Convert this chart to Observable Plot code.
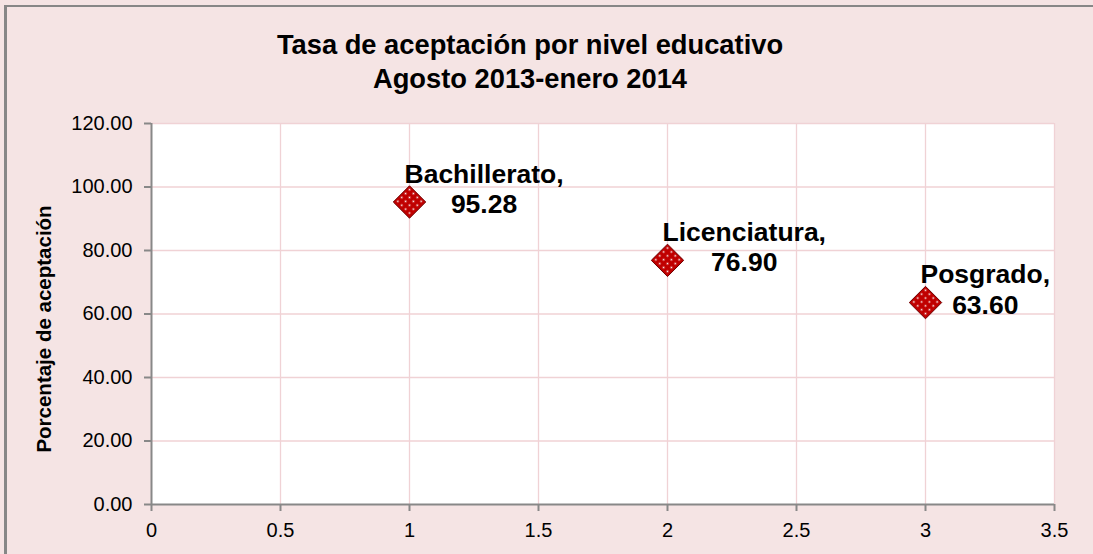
<!DOCTYPE html>
<html>
<head>
<meta charset="utf-8">
<script src="https://cdn.jsdelivr.net/npm/d3@7"></script>
<script src="https://cdn.jsdelivr.net/npm/@observablehq/plot@0.6"></script>
<style>
  html, body { margin: 0; padding: 0; }
  body { width: 1093px; height: 554px; background: #F5E4E4; overflow: hidden; position: relative;
         font-family: "Liberation Sans", Arial, sans-serif; }
  #border { position: absolute; left: 4px; top: 5px; width: 2000px; height: 2000px;
            border-left: 3px solid #878787; border-top: 2px solid #878787; pointer-events: none; }
  #title { height: 100px; width: 1060px; text-align: center; font-weight: bold; font-size: 27.3px;
           line-height: 34px; box-sizing: border-box; color: #000; padding-top: 28px; }
  #chart svg { display: block; overflow: visible; }
</style>
</head>
<body>
<div id="border"></div>
<div id="title"><div>Tasa de aceptación por nivel educativo</div><div>Agosto 2013-enero 2014</div></div>
<div id="chart"></div>
<script>
const categories = ["Bachillerato", "Licenciatura", "Posgrado"];
const positions = [1, 2, 3];
const values = [95.28, 76.90, 63.60];
const xTicks = [0, 0.5, 1, 1.5, 2, 2.5, 3, 3.5];
const yTicks = [0, 20, 40, 60, 80, 100, 120];
const yLabel = ["Porcentaje de aceptación"];

const data = categories.map((c, i) => ({name: c, x: positions[i], y: values[i]}));

const svg = Plot.plot({
  width: 1093,
  height: 454,
  marginLeft: 151,
  marginRight: 39,
  marginTop: 23,
  marginBottom: 50,
  style: {background: "transparent", fontFamily: "Liberation Sans, Arial, sans-serif", color: "#000", overflow: "visible"},
  x: {domain: [0, 3.5]},
  y: {domain: [0, 120]},
  marks: [
    Plot.frame({fill: "white", stroke: null}),
    Plot.gridX(xTicks.filter(d => d > 0), {stroke: "#F0D2D5", strokeOpacity: 1, strokeWidth: 1.3}),
    Plot.gridY(yTicks.filter(d => d > 0), {stroke: "#F0D2D5", strokeOpacity: 1, strokeWidth: 1.3}),
    Plot.ruleX([0], {stroke: "#888", strokeWidth: 2}),
    Plot.ruleY([0], {stroke: "#888", strokeWidth: 2}),
    Plot.axisX(xTicks, {tickSize: 7, tickPadding: 11, stroke: "#888", strokeWidth: 2, fill: "#000", fontSize: 20, label: null, tickFormat: d => String(d)}),
    Plot.axisY(yTicks, {tickSize: 7, tickPadding: 12, stroke: "#888", strokeWidth: 2, fill: "#000", fontSize: 20, label: null, tickFormat: d => d.toFixed(2)}),
    Plot.text(yLabel, {frameAnchor: "left", textAnchor: "middle", rotate: -90, dx: -107, dy: 15, fontSize: 20.5, fontWeight: "bold", fill: "#000"}),
    Plot.dot(data, {x: "x", y: "y", symbol: "diamond2", r: 14.6, fill: "url(#dots)", stroke: "#6E0000", strokeWidth: 1}),
    Plot.text(data, {x: "x", y: "y", text: d => `${d.name},\n${d.y.toFixed(2)}`, fontSize: 26.5, fontWeight: "bold",
      lineHeight: 1.15, textAnchor: "middle", lineAnchor: "middle", dy: -14, fill: "#000", className: "dlabel"})
  ]
});

const defs = d3.select(svg).insert("defs", ":first-child");
const pat = defs.append("pattern").attr("id", "dots").attr("patternUnits", "userSpaceOnUse")
  .attr("width", 5.5).attr("height", 5.5).attr("patternTransform", "rotate(45)");
pat.append("rect").attr("width", 5.5).attr("height", 5.5).attr("fill", "#C00000");
pat.append("rect").attr("x", 1.5).attr("y", 1.5).attr("width", 1.6).attr("height", 1.6).attr("fill", "#FFFFFF");

document.getElementById("chart").appendChild(svg);

d3.select(svg).selectAll(".dlabel text").each(function() {
  const w = this.getBBox().width;
  const t = this.getAttribute("transform") || "";
  this.setAttribute("transform", t + ` translate(${w / 2 - 5},0)`);
});
</script>
</body>
</html>
